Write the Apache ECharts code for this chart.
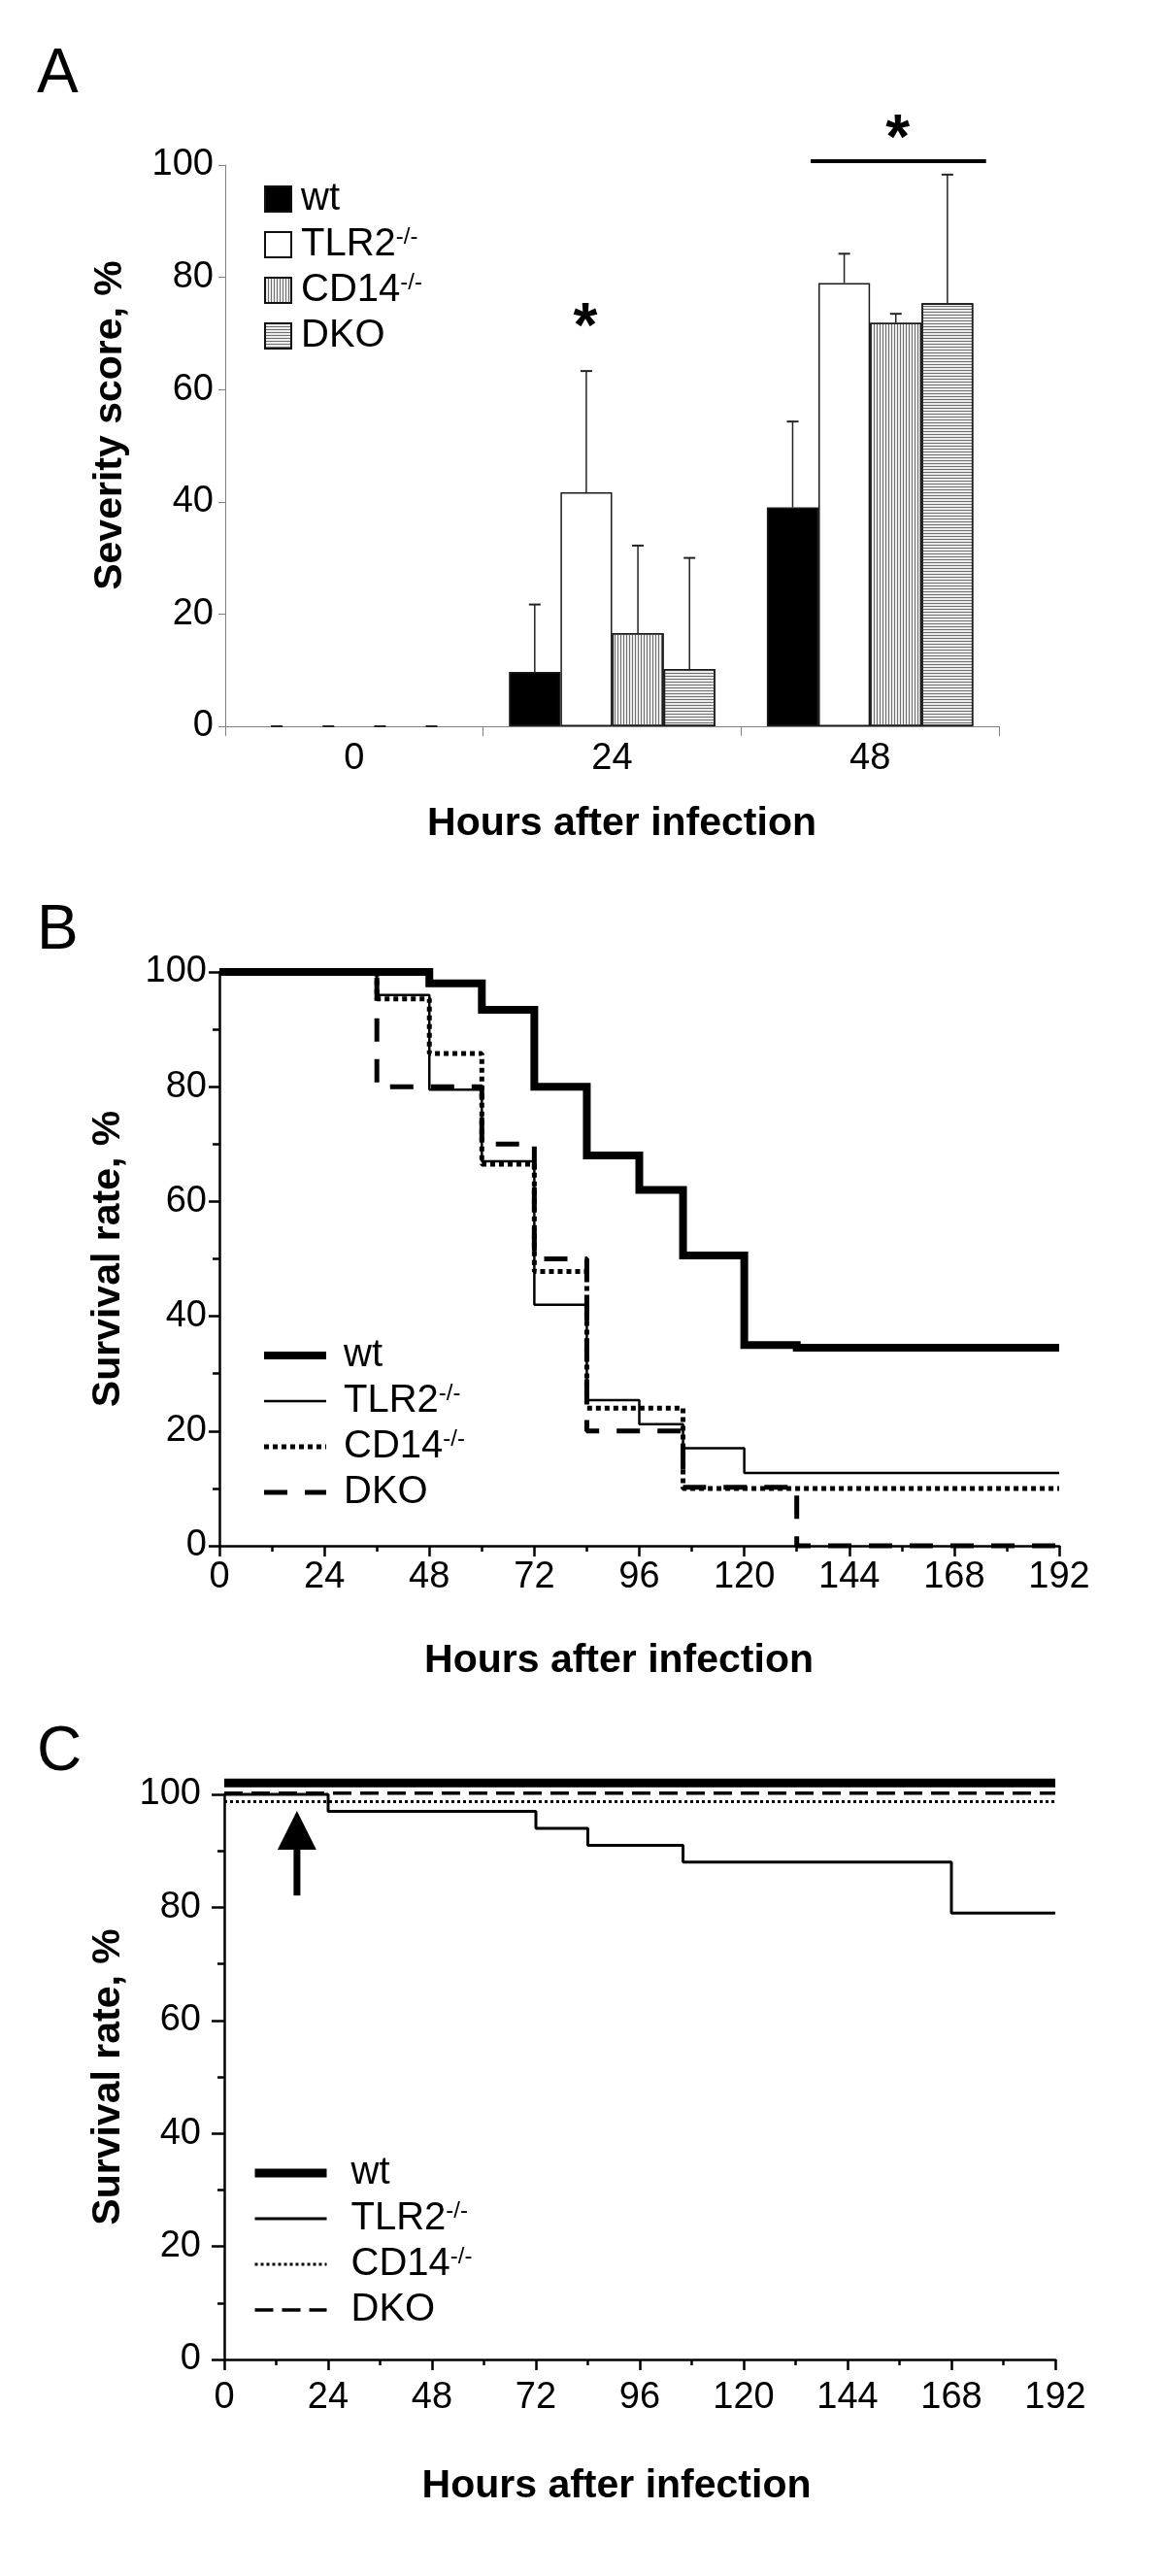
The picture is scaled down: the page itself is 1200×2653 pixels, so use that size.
<!DOCTYPE html>
<html><head><meta charset="utf-8">
<script src="https://cdn.jsdelivr.net/npm/echarts@6/dist/echarts.min.js"></script>
<style>html,body{margin:0;padding:0;background:#fff}#c{width:1200px;height:2653px}</style>
</head><body><div id="c"></div>
<script>
// ---------------- DATA ----------------
// Panel A: severity score
const categoriesA = ['0', '24', '48'];
const wtA   = [0, 9.7, 39.0];
const tlr2A = [0, 41.7, 79.0];
const cd14A = [0, 16.6, 71.9];
const dkoA  = [0, 10.2, 75.4];
const wtErrTopA   = [0, 21.7, 54.3];
const tlr2ErrTopA = [0, 63.3, 84.2];
const cd14ErrTopA = [0, 32.2, 73.5];
const dkoErrTopA  = [0, 30.0, 98.3];
// significance annotations (x in category units 0..3, y in %)
const sigLineA = [[2.27, 2.95, 100.7]];
const asterisksA = [[1.396, 73.3], [2.607, 106.9]];

// Panel B: survival (hours, %)
const wtB   = [[0,100],[48,98],[60,93.4],[72,80],[84,68],[96,62],[106,50.6],[120,35],[132,34.5],[192,34.5]];
const tlr2B = [[0,100],[36,96],[48,79.5],[60,67],[72,42],[84,25.4],[96,21.2],[106,17],[120,12.7],[192,12.7]];
const cd14B = [[0,100],[36,95.3],[48,85.8],[60,66.5],[72,47.8],[84,24],[106,10],[192,10]];
const dkoB  = [[0,100],[36,80],[60,70],[72,50],[84,20],[106,10.2],[132,0],[192,0]];

// Panel C: survival (hours, %)
const wtC   = [[0,102],[192,102]];
const tlr2C = [[0,100],[24,97],[72,94],[84,91],[106,88],[168,79],[192,79]];
const cd14C = [[0,98.7],[192,98.7]];
const dkoC  = [[0,100.2],[192,100.2]];
// arrow: [hour, tail %, head base %, tip %]
const arrowC = [[16.8, 82.1, 90.2, 97.1]];

// ---------------- STYLE ----------------
const FONT = '"Liberation Sans", Arial, Helvetica, sans-serif';
const chart = echarts.init(document.getElementById('c'), null, {renderer:'canvas', width:1200, height:2653});

function lbl(name){
  const k = name.split(':')[1];
  return (k === 'TLR2' || k === 'CD14') ? k + '{sup|-/-}' : k;
}
const richSup = { sup: { fontSize: 24, lineHeight: 24, verticalAlign: 'top', fontFamily: FONT, color:'#000' } };

function errRender(i){
  return function(params, api){
    const cat = api.value(0), v = api.value(1), t = api.value(2);
    const band = api.size([1,0])[0];
    const bw = band * 0.8 / 4;
    const p0 = api.coord([cat, v]);
    const p1 = api.coord([cat, t]);
    const x = p0[0] + (i - 1.5) * bw;
    return { type:'group', children:[
      { type:'line', shape:{x1:x, y1:p0[1], x2:x, y2:p1[1]}, style:{stroke:'#222', lineWidth:1.5} },
      { type:'line', shape:{x1:x-6, y1:p1[1], x2:x+6, y2:p1[1]}, style:{stroke:'#222', lineWidth:2} }
    ]};
  };
}

const stripeV = { symbol:'rect', symbolSize:1, dashArrayX:[1,2], dashArrayY:[1,0], color:'#6f6f6f' };
const stripeH = { symbol:'rect', symbolSize:1, dashArrayX:[1,0], dashArrayY:[1,2], color:'#6f6f6f' };

const barBase = { type:'bar', xAxisIndex:0, yAxisIndex:0, barGap:'0%', barCategoryGap:'20%' };
const barBorder = { borderColor:'#1a1a1a', borderWidth:1.5 };
// zero-height bars get no outline (only the error cap dash shows)
const barData = arr => arr.map(v => v === 0 ? {value:v, itemStyle:{borderWidth:0}} : v);

const valAxisBC = (grid, nameGap, pad, margin) => ({
  type:'value', gridIndex:grid, min:0, max:192, interval:24,
  axisLine:{show:true, lineStyle:{color:'#000', width:2.5}},
  axisTick:{show:true, length:11, lineStyle:{color:'#000', width:2.5}},
  minorTick:{show:true, splitNumber:2, length:6, lineStyle:{color:'#000', width:2.5}},
  splitLine:{show:false},
  axisLabel:{fontSize:38, color:'#000', margin:margin, fontFamily:FONT},
  name:'Hours after infection', nameLocation:'middle', nameGap:nameGap,
  nameTextStyle:{fontSize:41, fontWeight:'bold', color:'#000', fontFamily:FONT, padding:pad}
});
const yAxisBC = (grid, nameGap, tickLen, margin) => ({
  type:'value', gridIndex:grid, min:0, max:100, interval:20,
  axisLine:{show:true, lineStyle:{color:'#000', width:2.5}},
  axisTick:{show:true, length:tickLen, lineStyle:{color:'#000', width:2.5}},
  minorTick:{show:true, splitNumber:2, length:7, lineStyle:{color:'#000', width:2.5}},
  splitLine:{show:false},
  axisLabel:{fontSize:38, color:'#000', margin:margin, fontFamily:FONT},
  name:'Survival rate, %', nameLocation:'middle', nameGap:nameGap,
  nameTextStyle:{fontSize:41, fontWeight:'bold', color:'#000', fontFamily:FONT}
});

const lineBase = { type:'line', step:'end', symbol:'none', showSymbol:false, clip:false, color:'#000' };
const noDot = {opacity:0, color:'rgba(0,0,0,0)', borderWidth:0};
const legItem = (name, w) => ({name:name, lineStyle:{width:w}, itemStyle:noDot});

const option = {
  animation:false,
  backgroundColor:'#fff',
  textStyle:{fontFamily:FONT},
  title:[
    {text:'A', left:38, top:45, padding:0, textStyle:{fontSize:64, fontWeight:'normal', color:'#000', fontFamily:FONT}},
    {text:'B', left:38, top:927, padding:0, textStyle:{fontSize:64, fontWeight:'normal', color:'#000', fontFamily:FONT}},
    {text:'C', left:38, top:1773, padding:0, textStyle:{fontSize:64, fontWeight:'normal', color:'#000', fontFamily:FONT}}
  ],
  grid:[
    {left:232, top:170, width:797, height:578},
    {left:226, top:1001, width:865, height:591},
    {left:231, top:1848, width:856, height:582}
  ],
  legend:[
    { orient:'vertical', left:267, top:180, itemWidth:27, itemHeight:26, itemGap:7, selectedMode:false,
      icon:'rect', formatter:lbl,
      itemStyle:{borderWidth:2, borderColor:'#111'},
      textStyle:{fontSize:40, lineHeight:40, color:'#000', fontFamily:FONT, padding:[0,0,0,5], rich:richSup},
      data:['A:wt','A:TLR2','A:CD14','A:DKO'] },
    { orient:'vertical', left:263, top:1371, itemWidth:64, itemHeight:14, itemGap:7, selectedMode:false,
      formatter:lbl,
      textStyle:{fontSize:40, lineHeight:40, color:'#000', fontFamily:FONT, padding:[0,0,0,13], rich:richSup},
      data:[legItem('B:wt', 8), legItem('B:TLR2', 2.5), legItem('B:CD14', 5), legItem('B:DKO', 5)] },
    { orient:'vertical', left:253, top:2213, itemWidth:74, itemHeight:14, itemGap:7, selectedMode:false,
      formatter:lbl,
      textStyle:{fontSize:40, lineHeight:40, color:'#000', fontFamily:FONT, padding:[0,0,0,20], rich:richSup},
      data:[legItem('C:wt', 9), legItem('C:TLR2', 3), legItem('C:CD14', 3), legItem('C:DKO', 3.5)] }
  ],
  xAxis:[
    { type:'category', gridIndex:0, data:categoriesA,
      axisLine:{lineStyle:{color:'#808080', width:1}},
      axisTick:{show:true, length:10, lineStyle:{color:'#808080'}},
      axisLabel:{fontSize:38, color:'#000', margin:15, fontFamily:FONT},
      name:'Hours after infection', nameLocation:'middle', nameGap:80,
      nameTextStyle:{fontSize:41, fontWeight:'bold', color:'#000', fontFamily:FONT, padding:[0,0,0,20]} },
    { type:'value', gridIndex:0, min:0, max:3, show:false },
    valAxisBC(1, 98, [0,42,0,0], 14),
    valAxisBC(2, 110, [0,48,0,0], 21)
  ],
  yAxis:[
    { type:'value', gridIndex:0, min:0, max:100, interval:20,
      axisLine:{show:true, lineStyle:{color:'#808080', width:1}},
      axisTick:{show:true, length:7, lineStyle:{color:'#808080'}},
      splitLine:{show:false},
      axisLabel:{fontSize:38, color:'#000', margin:12, fontFamily:FONT},
      name:'Severity score, %', nameLocation:'middle', nameGap:98,
      nameTextStyle:{fontSize:41, fontWeight:'bold', color:'#000', fontFamily:FONT, padding:[0,0,0,42]} },
    yAxisBC(1, 94, 11, 13),
    yAxisBC(2, 99, 13, 24)
  ],
  series:[
    Object.assign({}, barBase, {name:'A:wt', data:barData(wtA), itemStyle:Object.assign({color:'#000'}, barBorder)}),
    Object.assign({}, barBase, {name:'A:TLR2', data:barData(tlr2A), itemStyle:Object.assign({color:'#fff'}, barBorder)}),
    Object.assign({}, barBase, {name:'A:CD14', data:barData(cd14A), itemStyle:Object.assign({color:'#ececec', decal:stripeV}, barBorder)}),
    Object.assign({}, barBase, {name:'A:DKO', data:barData(dkoA), itemStyle:Object.assign({color:'#ececec', decal:stripeH}, barBorder)}),
    { type:'custom', xAxisIndex:0, yAxisIndex:0, z:3, renderItem:errRender(0), data:wtA.map((v,j)=>[j, v, wtErrTopA[j]]) },
    { type:'custom', xAxisIndex:0, yAxisIndex:0, z:3, renderItem:errRender(1), data:tlr2A.map((v,j)=>[j, v, tlr2ErrTopA[j]]) },
    { type:'custom', xAxisIndex:0, yAxisIndex:0, z:3, renderItem:errRender(2), data:cd14A.map((v,j)=>[j, v, cd14ErrTopA[j]]) },
    { type:'custom', xAxisIndex:0, yAxisIndex:0, z:3, renderItem:errRender(3), data:dkoA.map((v,j)=>[j, v, dkoErrTopA[j]]) },
    { type:'custom', xAxisIndex:1, yAxisIndex:0, z:4, data:sigLineA,
      renderItem:function(params, api){
        const a = api.coord([api.value(0), api.value(2)]);
        const b = api.coord([api.value(1), api.value(2)]);
        return {type:'line', shape:{x1:a[0], y1:a[1], x2:b[0], y2:b[1]}, style:{stroke:'#000', lineWidth:4}};
      } },
    { type:'custom', xAxisIndex:1, yAxisIndex:0, z:4, data:asterisksA,
      renderItem:function(params, api){
        const p = api.coord([api.value(0), api.value(1)]);
        return {type:'text', x:p[0], y:p[1] + 15,
          style:{text:'*', fontSize:64, fontWeight:'bold', fontFamily:FONT, fill:'#000', align:'center', verticalAlign:'middle'}};
      } },

    Object.assign({}, lineBase, {name:'B:TLR2', xAxisIndex:2, yAxisIndex:1, data:tlr2B, z:3,
      lineStyle:{color:'#000', width:2.5}}),
    Object.assign({}, lineBase, {name:'B:CD14', xAxisIndex:2, yAxisIndex:1, data:cd14B, z:4,
      lineStyle:{color:'#000', width:5, type:[5,4]}}),
    Object.assign({}, lineBase, {name:'B:DKO', xAxisIndex:2, yAxisIndex:1, data:dkoB, z:5,
      lineStyle:{color:'#000', width:5, type:[24,18]}}),
    Object.assign({}, lineBase, {name:'B:wt', xAxisIndex:2, yAxisIndex:1, data:wtB, z:6,
      lineStyle:{color:'#000', width:8, join:'miter'}}),

    Object.assign({}, lineBase, {name:'C:wt', xAxisIndex:3, yAxisIndex:2, data:wtC, z:6,
      lineStyle:{color:'#000', width:9}}),
    Object.assign({}, lineBase, {name:'C:TLR2', xAxisIndex:3, yAxisIndex:2, data:tlr2C, z:3,
      lineStyle:{color:'#000', width:3}}),
    Object.assign({}, lineBase, {name:'C:CD14', xAxisIndex:3, yAxisIndex:2, data:cd14C, z:4,
      lineStyle:{color:'#000', width:3, type:[3,3]}}),
    Object.assign({}, lineBase, {name:'C:DKO', xAxisIndex:3, yAxisIndex:2, data:dkoC, z:5,
      lineStyle:{color:'#000', width:3.5, type:[19,9]}}),
    { type:'custom', xAxisIndex:3, yAxisIndex:2, z:7, data:arrowC,
      renderItem:function(params, api){
        const x = api.value(0);
        const tail = api.coord([x, api.value(1)]);
        const base = api.coord([x, api.value(2)]);
        const tip  = api.coord([x, api.value(3)]);
        return {type:'group', children:[
          {type:'rect', shape:{x:tail[0]-3.5, y:base[1]-1, width:7, height:tail[1]-base[1]+1}, style:{fill:'#000'}},
          {type:'polygon', shape:{points:[[tip[0], tip[1]], [base[0]-20, base[1]], [base[0]+20, base[1]]]}, style:{fill:'#000'}}
        ]};
      } }
  ]
};
chart.setOption(option);
</script>
</body></html>
